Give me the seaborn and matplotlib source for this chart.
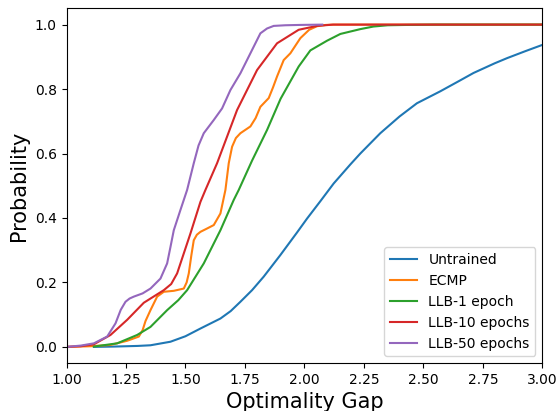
import matplotlib
matplotlib.use("Agg")
import matplotlib.pyplot as plt
import seaborn as sns

labels = ["Untrained", "ECMP", "LLB-1 epoch", "LLB-10 epochs", "LLB-50 epochs"]
colors = ["#1f77b4", "#ff7f0e", "#2ca02c", "#d62728", "#9467bd"]

untrained_x = [1.115, 1.20, 1.30, 1.353, 1.437, 1.50, 1.563, 1.647, 1.69, 1.731, 1.78, 1.829, 1.899,
               1.969, 2.011, 2.067, 2.123, 2.193, 2.235, 2.319, 2.40, 2.473, 2.571, 2.65, 2.711, 2.80, 2.852, 2.93, 3.0]
untrained_y = [0.0, 0.001, 0.003, 0.005, 0.016, 0.033, 0.057, 0.088, 0.111, 0.140, 0.176, 0.218, 0.285,
               0.355, 0.398, 0.452, 0.507, 0.566, 0.600, 0.663, 0.715, 0.756, 0.793, 0.825, 0.850, 0.880, 0.896, 0.918, 0.937]

ecmp_x = [1.0, 1.10, 1.185, 1.255, 1.304, 1.32, 1.332, 1.353, 1.381, 1.409, 1.451, 1.493,
          1.505, 1.514, 1.525, 1.535, 1.548, 1.563, 1.59, 1.619, 1.647, 1.668, 1.682, 1.696, 1.712,
          1.731, 1.773, 1.795, 1.815, 1.850, 1.868, 1.885, 1.913, 1.941, 1.983, 2.02, 2.053, 2.09, 2.123, 3.0]
ecmp_y = [0.0, 0.002, 0.006, 0.019, 0.032, 0.052, 0.080, 0.114, 0.156, 0.171, 0.174, 0.181,
          0.200, 0.228, 0.285, 0.331, 0.348, 0.357, 0.367, 0.378, 0.414, 0.487, 0.570, 0.621, 0.648,
          0.663, 0.684, 0.710, 0.745, 0.772, 0.805, 0.839, 0.890, 0.911, 0.958, 0.984, 0.995, 0.999, 1.0, 1.0]

llb1_x = [1.115, 1.213, 1.297, 1.353, 1.423, 1.47, 1.507, 1.577, 1.647, 1.703, 1.724, 1.78, 1.843, 1.90,
          1.976, 2.025, 2.095, 2.151, 2.235, 2.29, 2.35, 2.43, 2.55, 3.0]
llb1_y = [0.001, 0.011, 0.037, 0.062, 0.114, 0.145, 0.176, 0.259, 0.362, 0.456, 0.487, 0.578, 0.673, 0.770,
          0.870, 0.920, 0.950, 0.971, 0.986, 0.994, 0.998, 0.999, 1.0, 1.0]

llb10_x = [1.0, 1.06, 1.115, 1.185, 1.255, 1.325, 1.353, 1.409, 1.44, 1.465, 1.521, 1.563, 1.584, 1.633,
           1.717, 1.801, 1.885, 1.976, 2.053, 2.12, 3.0]
llb10_y = [0.0, 0.002, 0.008, 0.037, 0.084, 0.137, 0.150, 0.176, 0.195, 0.228, 0.352, 0.450, 0.487, 0.570,
           0.735, 0.859, 0.942, 0.984, 0.996, 1.0, 1.0]

llb50_x = [1.0, 1.06, 1.115, 1.171, 1.206, 1.228, 1.248, 1.265, 1.283, 1.320, 1.353, 1.395, 1.423,
           1.437, 1.451, 1.479, 1.507, 1.535, 1.555, 1.577, 1.619, 1.654, 1.689, 1.731, 1.773,
           1.815, 1.843, 1.871, 1.92, 1.98, 2.075]
llb50_y = [0.0, 0.004, 0.011, 0.032, 0.073, 0.115, 0.140, 0.150, 0.156, 0.166, 0.181, 0.212, 0.259,
           0.310, 0.362, 0.425, 0.487, 0.570, 0.625, 0.663, 0.704, 0.740, 0.797, 0.849, 0.911,
           0.973, 0.988, 0.996, 0.998, 0.999, 1.0]

series = [(untrained_x, untrained_y), (ecmp_x, ecmp_y), (llb1_x, llb1_y), (llb10_x, llb10_y), (llb50_x, llb50_y)]

fig = plt.figure(figsize=(5.56, 4.11), dpi=100)
ax = fig.add_axes([66.5 / 556, 1 - 363 / 411, (542.3 - 66.5) / 556, (363 - 8.5) / 411])

for (xs, ys), lab, col in zip(series, labels, colors):
    sns.lineplot(x=xs, y=ys, ax=ax, color=col, label=lab, linewidth=1.5, sort=False, estimator=None)

ax.set_xlim(1.0, 3.0)
ax.set_ylim(-0.05, 1.05)
ax.set_xticks([1.0, 1.25, 1.5, 1.75, 2.0, 2.25, 2.5, 2.75, 3.0])
ax.set_xticklabels(["1.00", "1.25", "1.50", "1.75", "2.00", "2.25", "2.50", "2.75", "3.00"])
ax.set_yticks([0.0, 0.2, 0.4, 0.6, 0.8, 1.0])
ax.set_xlabel("Optimality Gap", fontsize=15)
ax.set_ylabel("Probability", fontsize=15)
ax.legend(loc="lower right", fontsize=10)

fig.savefig("out.png", dpi=100)
